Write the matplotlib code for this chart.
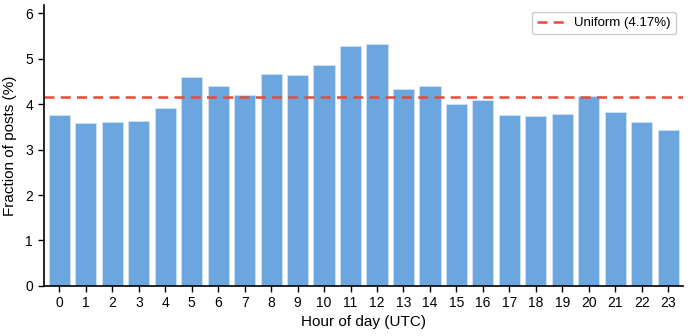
import matplotlib.pyplot as plt
import numpy as np

plt.rcParams['font.family'] = ['Liberation Sans', 'DejaVu Sans']

hours = list(range(24))
fractions = [3.76, 3.58, 3.60, 3.62, 3.91, 4.59, 4.40, 4.21, 4.66, 4.65, 4.85, 5.27,
             5.33, 4.33, 4.40, 4.01, 4.09, 3.76, 3.73, 3.79, 4.17, 3.82, 3.60, 3.43]
uniform = 100 / 24

fig = plt.figure(figsize=(6.91, 3.36), dpi=100)
ax = fig.add_axes([0.063, 0.149, 0.925, 0.836])

ax.bar(hours, fractions, width=0.8, color='#6ca6df', edgecolor='#cfe2f5', linewidth=0.6)
ax.axhline(uniform, color='#e8493a', linestyle='--', linewidth=1.8, dashes=(4, 2.5),
           label=f'Uniform ({uniform:.2f}%)')

ax.set_xlim(-0.6, 23.55)
ax.set_ylim(0, 6.18)
ax.set_xticks(hours)
ax.set_yticks(range(7))
ax.tick_params(labelsize=10, length=4, width=1)
ax.set_xlabel('Hour of day (UTC)', fontsize=11, labelpad=3)
ax.set_ylabel('Fraction of posts (%)', fontsize=11, labelpad=6)

for side in ['top', 'right']:
    ax.spines[side].set_visible(False)
for side in ['left', 'bottom']:
    ax.spines[side].set_linewidth(1.2)

ax.legend(loc='upper right', fontsize=9.5, frameon=True, fancybox=True, framealpha=1,
          edgecolor='#cccccc', handlelength=2.0)

fig.savefig('out.png', dpi=100)
